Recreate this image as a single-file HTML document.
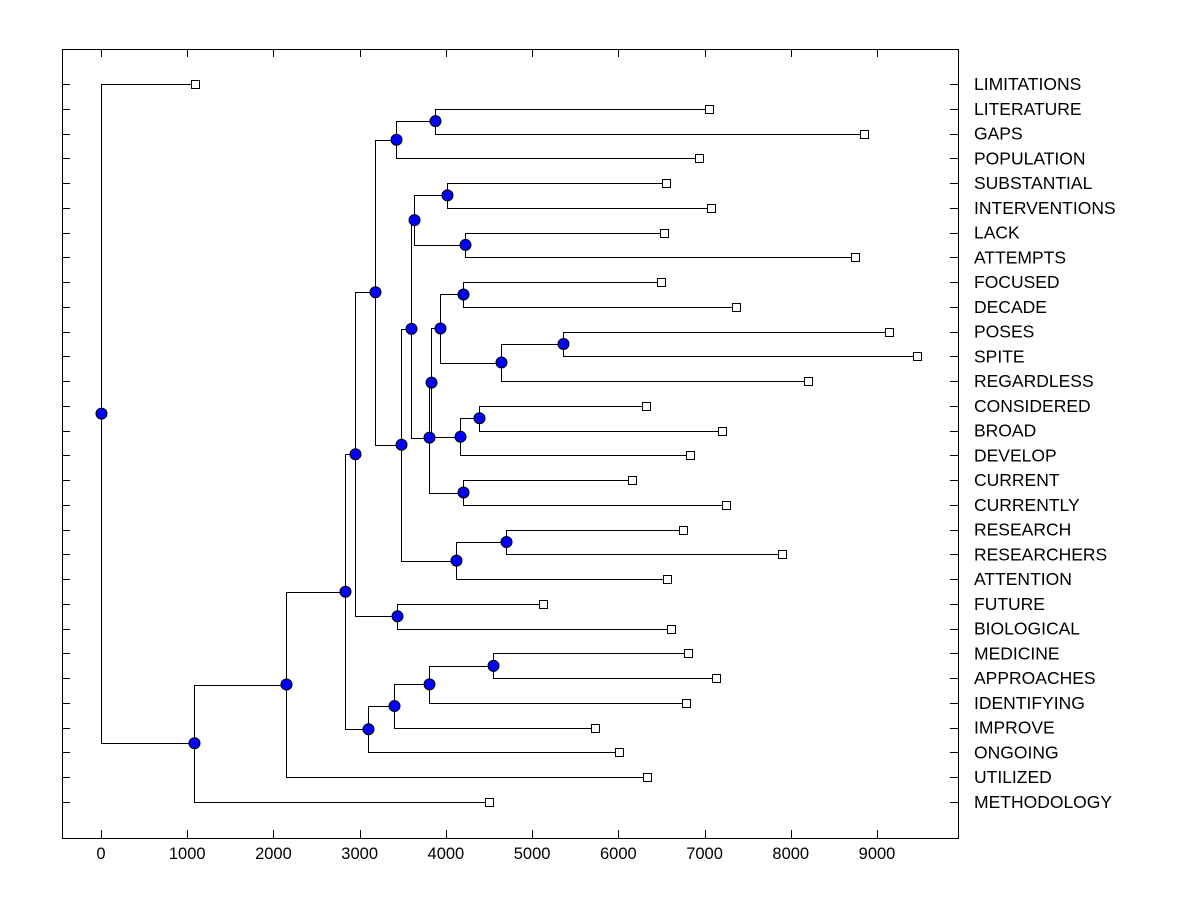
<!DOCTYPE html>
<html><head><meta charset="utf-8"><style>
html,body{margin:0;padding:0;background:#fff;}
svg{display:block;font-family:"Liberation Sans",Arial,sans-serif;}
</style></head><body>
<svg id="chart" width="1200" height="900" viewBox="0 0 1200 900"></svg>
<script>
const leafLabels = ["LIMITATIONS","LITERATURE","GAPS","POPULATION","SUBSTANTIAL","INTERVENTIONS","LACK","ATTEMPTS","FOCUSED","DECADE","POSES","SPITE","REGARDLESS","CONSIDERED","BROAD","DEVELOP","CURRENT","CURRENTLY","RESEARCH","RESEARCHERS","ATTENTION","FUTURE","BIOLOGICAL","MEDICINE","APPROACHES","IDENTIFYING","IMPROVE","ONGOING","UTILIZED","METHODOLOGY"];
const leafValues = [1090,7052,8850,6936,6553,7075,6530,8745,6495,7365,9140,9464,8200,6321,7203,6831,6159,7249,6750,7898,6565,5126,6611,6808,7133,6785,5730,6008,6333,4500];
// merges: [childA, childB]; "L#" = leaf index, "N#" = merge index
const mergeChildren = [
 ["L1","L2"],["N0","L3"],["L4","L5"],["L6","L7"],["N2","N3"],
 ["L8","L9"],["L10","L11"],["N6","L12"],["N5","N7"],["L13","L14"],
 ["N9","L15"],["N8","N10"],["L16","L17"],["N11","N12"],["N4","N13"],
 ["L18","L19"],["N15","L20"],["N14","N16"],["N1","N17"],["L21","L22"],
 ["N18","N19"],["L23","L24"],["N21","L25"],["N22","L26"],["N23","L27"],
 ["N20","N24"],["N25","L28"],["N26","L29"],["L0","N27"]
];
const mergeHeights = [3874,3421,4013,4222,3630,4199,5358,4639,3932,4384,4164,3827,4199,3804,3595,4697,4117,3479,3178,3433,2946,4547,3804,3398,3097,2830,2146,1079,0];
const xTicks = [0,1000,2000,3000,4000,5000,6000,7000,8000,9000];

const NS="http://www.w3.org/2000/svg";
const svg=document.getElementById('chart');
const L=62,R=958,T=49,B=838;
const xs=v=>101+v*(776/9000);
const ys=i=>84+i*((802-84)/29);
function mk(tag,attrs,parent){const e=document.createElementNS(NS,tag);for(const k in attrs)e.setAttribute(k,attrs[k]);(parent||svg).appendChild(e);return e;}

const frame=mk('rect',{x:L+0.5,y:T+0.5,width:R-L,height:B-T,fill:'none',stroke:'#000','stroke-width':1});



const gAx=mk('g',{});


xTicks.forEach(v=>{
  const x=Math.round(xs(v))+0.5;
  mk('line',{x1:x,y1:B,x2:x,y2:B-8,stroke:'#000'},gAx);
  mk('line',{x1:x,y1:T,x2:x,y2:T+8,stroke:'#000'},gAx);
  const t=mk('text',{x:xs(v),y:859,'font-size':16.5,'text-anchor':'middle',fill:'#000'},gAx);
  t.textContent=v;
  
  
});

const gLab=mk('g',{});


leafLabels.forEach((lab,i)=>{
  const y=Math.round(ys(i))+0.5;
  mk('line',{x1:L,y1:y,x2:L+8,y2:y,stroke:'#000'},gLab);
  mk('line',{x1:R-8,y1:y,x2:R,y2:y,stroke:'#000'},gLab);
  const t=mk('text',{x:974,y:ys(i)+6,'font-size':17.5,fill:'#000'},gLab);
  t.textContent=lab;
  
  
});

const pos={};
leafValues.forEach((v,i)=>{pos['L'+i]={x:xs(v),y:ys(i)};});
const gLines=mk('g',{});


const gMarks=mk('g',{});
mergeChildren.forEach((c,i)=>{
  const a=pos[c[0]],b=pos[c[1]];
  const x=Math.round(xs(mergeHeights[i]))+0.5;
  const y=(a.y+b.y)/2;
  pos['N'+i]={x:x,y:y};
  const p=mk('path',{d:`M${a.x},${Math.round(a.y)+0.5}H${x}V${Math.round(b.y)+0.5}H${b.x}`,fill:'none',stroke:'#000','stroke-width':1},gLines);
  
  
});
leafValues.forEach((v,i)=>{
  const r=mk('rect',{x:Math.round(xs(v))-3.5,y:Math.round(ys(i))-3.5,width:8,height:8,fill:'#fff',stroke:'#000'},gMarks);
  
  
});
mergeChildren.forEach((c,i)=>{
  const p=pos['N'+i];
  const ci=mk('circle',{cx:p.x,cy:p.y,r:5.5,fill:'#0000ff',stroke:'#000','stroke-width':1},gMarks);
  
  
});
</script>
</body></html>
